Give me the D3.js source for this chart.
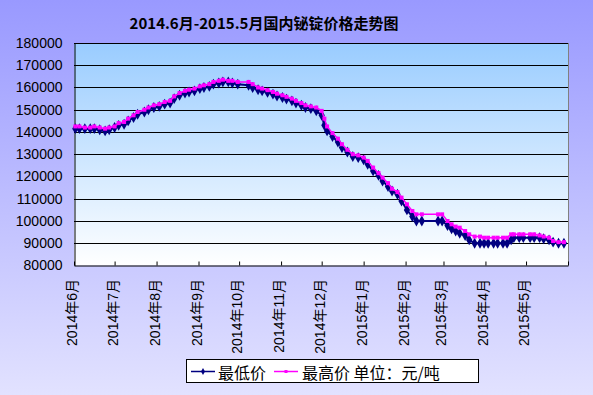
<!DOCTYPE html>
<html>
<head>
<meta charset="utf-8">
<script src="https://cdn.jsdelivr.net/npm/d3@7"></script>
<style>
  body { margin: 0; padding: 0; }
  svg { display: block; }
</style>
</head>
<body>
<div id="chart"></div>
<script>
// Chart data
var chartTitle = "2014.6月-2015.5月国内铋锭价格走势图";

var dates = [
  "2014-06-02", "2014-06-05", "2014-06-09", "2014-06-13", "2014-06-16", "2014-06-20", "2014-06-24", "2014-06-27",
  "2014-07-01", "2014-07-04", "2014-07-08", "2014-07-11", "2014-07-15", "2014-07-18", "2014-07-23", "2014-07-26", "2014-07-30",
  "2014-08-03", "2014-08-07", "2014-08-11", "2014-08-14", "2014-08-18", "2014-08-22", "2014-08-25", "2014-08-29",
  "2014-09-02", "2014-09-05", "2014-09-09", "2014-09-12", "2014-09-16", "2014-09-19", "2014-09-23", "2014-09-26", "2014-09-30",
  "2014-10-08", "2014-10-11", "2014-10-15", "2014-10-18", "2014-10-22", "2014-10-26", "2014-10-29",
  "2014-11-02", "2014-11-05", "2014-11-09", "2014-11-12", "2014-11-16", "2014-11-19", "2014-11-23", "2014-11-27",
  "2014-12-01", "2014-12-03", "2014-12-05", "2014-12-09", "2014-12-13", "2014-12-16", "2014-12-20", "2014-12-24", "2014-12-28",
  "2015-01-01", "2015-01-04", "2015-01-08", "2015-01-12", "2015-01-15", "2015-01-19", "2015-01-22", "2015-01-26", "2015-01-29",
  "2015-02-02", "2015-02-06", "2015-02-09", "2015-02-13", "2015-02-25", "2015-02-28",
  "2015-03-04", "2015-03-07", "2015-03-10", "2015-03-13", "2015-03-17", "2015-03-20", "2015-03-24", "2015-03-28", "2015-03-31",
  "2015-04-03", "2015-04-07", "2015-04-10", "2015-04-14", "2015-04-17", "2015-04-20", "2015-04-22", "2015-04-26", "2015-04-29",
  "2015-05-04", "2015-05-07", "2015-05-11", "2015-05-14", "2015-05-18", "2015-05-21", "2015-05-25", "2015-05-29"
];

var lowPrices = [
  141500, 141500, 141500, 141500, 141500, 141000, 140500, 141000,
  142000, 143000, 143500, 145000, 146500, 148000, 149000, 150000, 151000,
  151500, 152500, 153000, 155000, 156500, 157500, 158000, 158500,
  159500, 160000, 160500, 161500, 162000, 162500, 162500, 162000, 161500,
  161000, 160000, 159000, 158500, 157800, 157000, 156200,
  155500, 154800, 154000, 153000, 152000, 151000, 150500, 149500,
  147500, 143000, 140500, 138000, 135500, 133000, 131000, 129000, 128500,
  127500, 125500, 122500, 120500, 118000, 115500, 113500, 112000, 109000,
  105000, 102000, 100000, 100000, 100000, 100000,
  98000, 96500, 95500, 94500, 93500, 91500, 90000, 90000, 90000,
  90000, 90000, 90000, 90000, 90000, 91500, 92500, 92500, 92500,
  92500, 92500, 92500, 92000, 91500, 90500, 90000, 90000
];

var highPrices = [
  142500, 142500, 142000, 142000, 142500, 142000, 141500, 142000,
  142500, 144000, 144500, 146000, 147500, 149000, 150000, 151000, 152000,
  152500, 153500, 154000, 156000, 157500, 158500, 159000, 159500,
  160500, 161000, 161500, 162500, 163000, 163500, 163000, 163000, 162500,
  162500, 161500, 160000, 159500, 158800, 158000, 157200,
  156500, 155800, 155000, 154000, 153000, 152000, 151500, 151000,
  149500, 146000, 142500, 139500, 137000, 134500, 132000, 130000, 129500,
  128500, 127000, 124000, 121500, 119500, 117000, 114500, 113000, 110500,
  107500, 104500, 103000, 103000, 103000, 103000,
  100000, 98500, 97500, 97000, 95500, 94000, 93000, 93000, 92500,
  92500, 92500, 92500, 92500, 92500, 94000, 94000, 94000, 94000,
  94000, 94000, 93500, 93000, 92500, 91000, 90500, 90500
];

var yTicks = [80000, 90000, 100000, 110000, 120000, 130000, 140000, 150000, 160000, 170000, 180000];

var monthLabels = [
  "2014年6月", "2014年7月", "2014年8月", "2014年9月", "2014年10月", "2014年11月",
  "2014年12月", "2015年1月", "2015年2月", "2015年3月", "2015年4月", "2015年5月"
];

var legendNames = ["最低价", "最高价"];
var unitText = "单位：元/吨";

// Layout
var width = 593, height = 395;
var plot = {left: 74, right: 568, top: 43, bottom: 265.5};

var svg = d3.select("#chart")
  .append("svg")
    .attr("width", width)
    .attr("height", height);

var defs = svg.append("defs");

var bgGrad = defs.append("linearGradient")
    .attr("id", "bgGrad")
    .attr("x1", 0).attr("y1", 0).attr("x2", 0).attr("y2", 1);
bgGrad.append("stop").attr("offset", "0%").attr("stop-color", "#9999ff");
bgGrad.append("stop").attr("offset", "100%").attr("stop-color", "#e2e2ff");

var plotGrad = defs.append("linearGradient")
    .attr("id", "plotGrad")
    .attr("x1", 0).attr("y1", 0).attr("x2", 0).attr("y2", 1);
plotGrad.append("stop").attr("offset", "0%").attr("stop-color", "#99ccff");
plotGrad.append("stop").attr("offset", "100%").attr("stop-color", "#ffffff");

// Backgrounds
svg.append("rect")
    .attr("width", width)
    .attr("height", height)
    .attr("fill", "url(#bgGrad)");

svg.append("rect")
    .attr("x", plot.left)
    .attr("y", plot.top)
    .attr("width", plot.right - plot.left)
    .attr("height", plot.bottom - plot.top)
    .attr("fill", "url(#plotGrad)");

// Title
svg.append("text")
    .attr("x", 264)
    .attr("y", 22)
    .attr("text-anchor", "middle")
    .attr("dominant-baseline", "central")
    .style("font-family", "'Noto Sans CJK SC', sans-serif")
    .style("font-weight", "bold")
    .style("font-size", "15px")
    .text(chartTitle);

// Scales
var parseDate = d3.timeParse("%Y-%m-%d");
var data = dates.map(function(d, i) {
  return {date: parseDate(d), low: lowPrices[i], high: highPrices[i]};
});

var startDate = parseDate("2014-06-01"),
    endDate = parseDate("2015-06-01");

var x = d3.scaleTime()
  .domain([startDate, endDate])
  .range([plot.left, plot.right]);

var y = d3.scaleLinear()
  .domain([80000, 180000])
  .range([plot.bottom, plot.top]);

// Gridlines
svg.append("g")
  .selectAll("line")
  .data(yTicks.slice(1))
  .join("line")
    .attr("x1", plot.left)
    .attr("x2", plot.right)
    .attr("y1", function(d) { return Math.round(y(d)) + 0.5; })
    .attr("y2", function(d) { return Math.round(y(d)) + 0.5; })
    .attr("stroke", "#000")
    .attr("stroke-width", 1);

// Right border of the plot area
svg.append("line")
    .attr("x1", plot.right + 0.5).attr("x2", plot.right + 0.5)
    .attr("y1", plot.top).attr("y2", plot.bottom)
    .attr("stroke", "#808080");

// Y axis
var yAxis = svg.append("g")
    .attr("transform", "translate(" + (plot.left + 0.5) + ",0)")
    .call(d3.axisLeft(y).tickValues(yTicks).tickSize(0).tickPadding(12).tickFormat(d3.format("d")));
yAxis.select(".domain").attr("stroke", "#000");
yAxis.selectAll("text")
    .style("font-family", "'Liberation Sans', Arial, sans-serif")
    .style("font-size", "14px")
    .attr("fill", "#000");

// X axis: ticks at month starts, pointing inward
var monthStarts = d3.timeMonth.range(startDate, d3.timeDay.offset(endDate, 1));
var xAxis = svg.append("g")
    .attr("transform", "translate(0," + (Math.round(plot.bottom) - 0.5) + ")")
    .call(d3.axisBottom(x).tickValues(monthStarts).tickSizeInner(-4).tickSizeOuter(0).tickFormat(""));
xAxis.select(".domain").attr("stroke", "#000");
xAxis.selectAll(".tick line").attr("stroke", "#000");

// Rotated month labels
svg.append("g")
  .selectAll("text")
  .data(monthLabels)
  .join("text")
    .attr("transform", function(d, i) {
      return "translate(" + (x(monthStarts[i]) - 2) + ",279) rotate(-90)";
    })
    .attr("text-anchor", "end")
    .attr("dominant-baseline", "central")
    .style("font-family", "'Liberation Sans', 'Noto Sans CJK SC', sans-serif")
    .style("font-size", "14px")
    .text(function(d) { return d; });

// Lines
var lowLine = d3.line()
  .x(function(d) { return x(d.date); })
  .y(function(d) { return y(d.low); });

var highLine = d3.line()
  .x(function(d) { return x(d.date); })
  .y(function(d) { return y(d.high); });

svg.append("path")
    .datum(data)
    .attr("fill", "none")
    .attr("stroke", "#000080")
    .attr("stroke-width", 2)
    .attr("d", lowLine);

svg.append("g")
  .selectAll("path")
  .data(data)
  .join("path")
    .attr("transform", function(d) { return "translate(" + x(d.date) + "," + y(d.low) + ")"; })
    .attr("d", d3.symbol(d3.symbolDiamond, 34))
    .attr("fill", "#000080");

svg.append("path")
    .datum(data)
    .attr("fill", "none")
    .attr("stroke", "#ff00ff")
    .attr("stroke-width", 1.5)
    .attr("d", highLine);

svg.append("g")
  .selectAll("rect")
  .data(data)
  .join("rect")
    .attr("x", function(d) { return x(d.date) - 2; })
    .attr("y", function(d) { return y(d.high) - 2; })
    .attr("width", 4)
    .attr("height", 4)
    .attr("fill", "#ff00ff");

// Legend
var legend = svg.append("g");
legend.append("rect")
    .attr("x", 186.5)
    .attr("y", 359.5)
    .attr("width", 292)
    .attr("height", 23)
    .attr("fill", "#fff")
    .attr("stroke", "#000");

var legendY = 371.5;
legend.append("line")
    .attr("x1", 191).attr("x2", 215)
    .attr("y1", legendY).attr("y2", legendY)
    .attr("stroke", "#000080").attr("stroke-width", 1.5);
legend.append("path")
    .attr("transform", "translate(203," + legendY + ")")
    .attr("d", d3.symbol(d3.symbolDiamond, 14))
    .attr("fill", "#000080");
legend.append("line")
    .attr("x1", 274).attr("x2", 298)
    .attr("y1", legendY).attr("y2", legendY)
    .attr("stroke", "#ff00ff").attr("stroke-width", 1.5);
legend.append("rect")
    .attr("x", 284.5).attr("y", legendY - 1.5)
    .attr("width", 3).attr("height", 3)
    .attr("fill", "#ff00ff");

legend.selectAll("text")
  .data([legendNames[0], legendNames[1] + " " + unitText])
  .join("text")
    .attr("x", function(d, i) { return i === 0 ? 218 : 302; })
    .attr("y", legendY)
    .attr("dominant-baseline", "central")
    .style("font-family", "'Noto Sans CJK SC', sans-serif")
    .style("font-size", "16px")
    .attr("xml:space", "preserve")
    .text(function(d) { return d; });
</script>
</body>
</html>
